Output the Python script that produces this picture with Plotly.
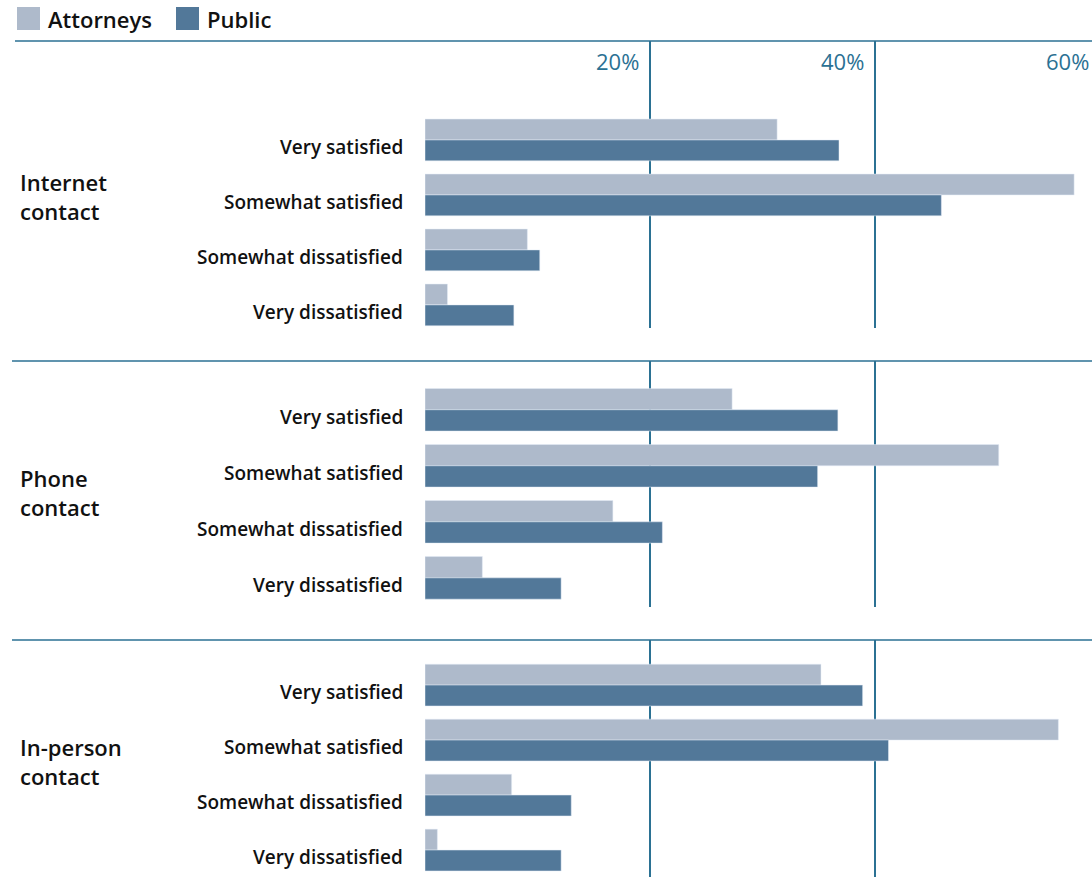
import plotly.graph_objects as go
from plotly.subplots import make_subplots

categories = ["Very satisfied", "Somewhat satisfied", "Somewhat dissatisfied", "Very dissatisfied"]
panel_titles = ["Internet<br>contact", "Phone<br>contact", "In-person<br>contact"]
tick_vals = [20, 40, 60]
tick_text = ["20%", "40%", "60%"]

attorneys_internet = [31.3, 57.7, 9.1, 2.0]
public_internet = [36.8, 45.9, 10.2, 7.9]
attorneys_phone = [27.3, 51.0, 16.7, 5.1]
public_phone = [36.7, 34.9, 21.1, 12.1]
attorneys_inperson = [35.2, 56.3, 7.7, 1.1]
public_inperson = [38.9, 41.2, 13.0, 12.1]

attorneys = [attorneys_internet, attorneys_phone, attorneys_inperson]
public = [public_internet, public_phone, public_inperson]

W, H = 1092, 877
LIGHT = "#aebacb"
DARK = "#527899"
TEAL = "#2b7193"
FONT = "Open Sans"


def px(x):
    return x / W


def py(y):
    return 1 - y / H


# pixel layout of each panel: (top, bottom), y ranges in category units, title centre
panel_px = [(41, 328), (361, 607), (640, 877)]
panel_range = [[3.42, -1.8], [3.52, -0.87], [3.49, -0.82]]
title_px = [196, 492, 761]
x0_px = 425
px_per_pct = (650 - 425) / 20.0
x_max = (W - x0_px) / px_per_pct

fig = make_subplots(rows=3, cols=1)

for i in range(3):
    fig.add_trace(go.Bar(y=categories, x=attorneys[i], orientation="h", marker_color=LIGHT,
                         name="Attorneys", showlegend=False, hoverinfo="x+y"), row=i + 1, col=1)
    fig.add_trace(go.Bar(y=categories, x=public[i], orientation="h", marker_color=DARK,
                         name="Public", showlegend=False, hoverinfo="x+y"), row=i + 1, col=1)

annotations = []
shapes = []
for i in range(3):
    top, bot = panel_px[i]
    dom = [max(0, py(bot)), py(top)]
    ax = "" if i == 0 else str(i + 1)
    fig.layout["xaxis" + ax].update(domain=[px(x0_px), 1], range=[0, x_max], tickvals=tick_vals,
                                    showticklabels=False, showgrid=True, gridcolor=TEAL, gridwidth=1.5,
                                    zeroline=False, showline=False, fixedrange=True)
    fig.layout["yaxis" + ax].update(domain=dom, range=panel_range[i], type="category",
                                    showticklabels=False, showgrid=False, zeroline=False, fixedrange=True)
    # category labels
    for c in categories:
        annotations.append(dict(x=px(405), y=c, xref="paper", yref="y" + ax, text=c, showarrow=False,
                                xanchor="right", yanchor="middle", yshift=-7,
                                font=dict(family=FONT, size=19, color="#111111", weight=600)))
    # panel title
    annotations.append(dict(x=px(18), y=py(title_px[i]), xref="paper", yref="paper", text=panel_titles[i],
                            showarrow=False, xanchor="left", yanchor="middle", align="left",
                            font=dict(family=FONT, size=22, color="#111111", weight=600)))
    # separator line above panel
    shapes.append(dict(type="line", xref="paper", yref="paper", x0=px(15 if i == 0 else 12), x1=1,
                       y0=py(top), y1=py(top), line=dict(color=TEAL, width=1.5)))

# tick labels sit just left of each gridline at the top of the first panel
for v, t in zip(tick_vals, tick_text):
    annotations.append(dict(x=px(x0_px + v * px_per_pct), y=py(61), xref="paper", yref="paper", text=t,
                            showarrow=False, xanchor="right", yanchor="middle", xshift=-9,
                            font=dict(family=FONT, size=22, color=TEAL)))

# legend drawn by hand
for name, col, xpx in [("Attorneys", LIGHT, 17), ("Public", DARK, 176)]:
    shapes.append(dict(type="rect", xref="paper", yref="paper", x0=px(xpx), x1=px(xpx + 23),
                       y0=py(30), y1=py(7), fillcolor=col, line=dict(width=0)))
    annotations.append(dict(x=px(xpx + 29), y=py(19), xref="paper", yref="paper", text=name,
                            showarrow=False, xanchor="left", yanchor="middle",
                            font=dict(family=FONT, size=22, color="#111111", weight=600)))

fig.update_layout(
    width=W, height=H,
    margin=dict(l=0, r=0, t=0, b=0),
    barmode="group", bargap=0.24, bargroupgap=0,
    plot_bgcolor="white", paper_bgcolor="white",
    annotations=annotations, shapes=shapes,
    showlegend=False,
)

# drop the default page margin so the 1092x877 figure fills the window exactly
fig.write_html("out.html", config={"displayModeBar": False},
               post_script="document.body.style.margin='0';document.body.style.overflow='hidden';")
